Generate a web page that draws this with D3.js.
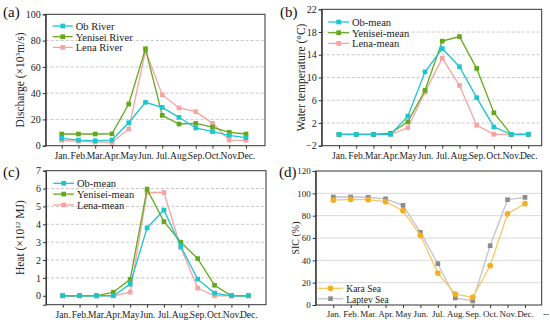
<!DOCTYPE html>
<html>
<head>
<meta charset="utf-8">
<script src="https://cdn.jsdelivr.net/npm/d3@7"></script>
<style>
  body { margin: 0; background: #fff; }
  svg { display: block; font-family: "Liberation Serif", "Times New Roman", serif; }
</style>
</head>
<body>
<script>
// months on x axis
var months = ['Jan.', 'Feb.', 'Mar.', 'Apr.', 'May', 'Jun.', 'Jul.', 'Aug.', 'Sep.', 'Oct.', 'Nov.', 'Dec.'];

// (a) discharge, 10^3 m/s
var obDischarge      = [5.6, 4.3, 3.8, 4.3, 17.5, 33, 29.2, 21.6, 13.5, 10.7, 7.9, 6.1];
var yeniseiDischarge = [8.9, 8.9, 8.9, 9, 31.7, 73.8, 23.1, 16.5, 17, 14.2, 10.2, 8.9];
var lenaDischarge    = [4.1, 3.5, 2.8, 2.5, 12.7, 72, 38.8, 28.7, 25.9, 17, 4.3, 4.1];

// (b) water temperature, deg C
var obTemp      = [0, 0, 0, 0, 3.2, 11.0, 15.1, 11.9, 6.45, 1.3, 0, 0];
var yeniseiTemp = [0, 0, 0, 0.2, 2.2, 7.75, 16.4, 17.2, 11.6, 3.8, 0, 0];
var lenaTemp    = [0, 0, 0, 0, 1.15, 7.45, 13.4, 8.6, 1.6, 0, 0, 0];

// (c) heat, 10^12 MJ
var obHeat      = [0, 0, 0, 0, 0.65, 3.8, 4.8, 2.76, 0.93, 0.15, 0, 0];
var yeniseiHeat = [0, 0, 0, 0.2, 0.92, 5.97, 4.15, 3.0, 2.08, 0.59, 0, 0];
var lenaHeat    = [0, 0, 0, 0, 0.2, 5.78, 5.78, 2.69, 0.43, 0, 0, 0];

// (d) sea ice concentration, %
var karaSIC   = [94, 94.6, 94.3, 92.5, 84.5, 62.4, 28.6, 9.8, 6.9, 35.2, 81.7, 90.7];
var laptevSIC = [96.7, 96.7, 96.5, 95, 89.2, 65, 37, 6.3, 3.6, 53.1, 94.3, 96.4];

var svg = d3.select('body').append('svg')
    .attr('width', 550)
    .attr('height', 323);

function drawPanel(cfg) {
    var g = svg.append('g');
    var x = d3.scalePoint().domain(months).range([cfg.x0, cfg.x1]);
    var y = d3.scaleLinear().domain(cfg.yDomain).range([cfg.bottom, cfg.top]);

    // grid
    g.selectAll('.grid')
        .data(cfg.grid)
        .enter().append('line')
        .attr('x1', cfg.left).attr('x2', cfg.right)
        .attr('y1', function(d) { return y(d); })
        .attr('y2', function(d) { return y(d); })
        .attr('stroke', cfg.gridSolid ? '#d9d9d9' : '#c8c8c8')
        .attr('stroke-width', 1)
        .attr('stroke-dasharray', cfg.gridSolid ? null : '3,2');

    // frame
    g.append('rect')
        .attr('x', cfg.left).attr('y', cfg.top)
        .attr('width', cfg.right - cfg.left)
        .attr('height', cfg.bottom - cfg.top)
        .attr('fill', 'none')
        .attr('stroke', '#333')
        .attr('stroke-width', 1);

    var yAxis = d3.axisLeft(y).tickValues(cfg.yTicks).tickSize(3).tickPadding(2)
        .tickFormat(function(d) { return d < 0 ? '\u22122' : d; });
    var ya = g.append('g').attr('transform', 'translate(' + cfg.left + ',0)').call(yAxis);
    ya.select('.domain').attr('stroke', '#333');
    ya.selectAll('line').attr('stroke', '#333');
    ya.selectAll('text').attr('font-size', cfg.fs).attr('fill', '#222')
        .attr('font-family', '"Liberation Serif", serif');

    var xAxis = d3.axisBottom(x).tickSize(3).tickPadding(3);
    var xa = g.append('g').attr('transform', 'translate(0,' + cfg.bottom + ')').call(xAxis);
    xa.select('.domain').remove();
    xa.selectAll('line').attr('stroke', '#333');
    xa.selectAll('text').attr('font-size', cfg.xfs || cfg.fs).attr('fill', '#222')
        .attr('font-family', '"Liberation Serif", serif');

    var line = d3.line()
        .x(function(d, i) { return x(months[i]); })
        .y(function(d) { return y(d); });

    // draw last series first so the first one sits on top
    cfg.series.slice().reverse().forEach(function(s) {
        g.append('path')
            .attr('d', line(s.values))
            .attr('fill', 'none')
            .attr('stroke', s.line || s.color)
            .attr('stroke-width', 1.3);
        var sym = d3.symbol().type(s.shape === 'circle' ? d3.symbolCircle : d3.symbolSquare)
            .size(s.shape === 'circle' ? 26 : 22);
        g.selectAll(null)
            .data(s.values)
            .enter().append('path')
            .attr('d', sym)
            .attr('transform', function(d, i) { return 'translate(' + x(months[i]) + ',' + y(d) + ')'; })
            .attr('fill', s.color);
    });

    // legend
    cfg.series.forEach(function(s, i) {
        var ly = cfg.legend.y + i * cfg.legend.dy;
        g.append('line')
            .attr('x1', cfg.legend.x).attr('x2', cfg.legend.x + cfg.legend.w)
            .attr('y1', ly).attr('y2', ly)
            .attr('stroke', s.line || s.color).attr('stroke-width', 1.3);
        g.append('path')
            .attr('d', d3.symbol().type(s.shape === 'circle' ? d3.symbolCircle : d3.symbolSquare)
                .size(s.shape === 'circle' ? 26 : 22))
            .attr('transform', 'translate(' + (cfg.legend.x + cfg.legend.w / 2) + ',' + ly + ')')
            .attr('fill', s.color);
        g.append('text')
            .attr('x', cfg.legend.x + cfg.legend.w + 3)
            .attr('y', ly + 4)
            .attr('font-size', cfg.legend.fs)
            .attr('fill', '#222')
            .text(s.name);
    });

    // y axis title
    g.append('text')
        .attr('transform', 'translate(' + cfg.titleX + ',' + ((cfg.top + cfg.bottom) / 2) + ') rotate(-90)')
        .attr('text-anchor', 'middle')
        .attr('font-size', cfg.titleFs)
        .attr('fill', '#222')
        .html(cfg.title);

    // panel tag
    g.append('text')
        .attr('x', cfg.tag.x).attr('y', cfg.tag.y)
        .attr('font-size', 15)
        .attr('fill', '#111')
        .text(cfg.tag.text);

    return { g: g, x: x, y: y };
}

var cOb = '#1cc6cf', cYen = '#66a81d', cLena = '#f6a3a3';

drawPanel({
    left: 45.7, right: 265, top: 14.3, bottom: 145.7, x0: 61.7, x1: 246,
    yDomain: [0, 100], yTicks: [0, 20, 40, 60, 80, 100], grid: [20, 40, 60, 80],
    fs: 10, xfs: 9.6,
    series: [
        { name: 'Ob River', values: obDischarge, color: cOb },
        { name: 'Yenisei River', values: yeniseiDischarge, color: cYen },
        { name: 'Lena River', values: lenaDischarge, color: cLena }
    ],
    legend: { x: 52.7, y: 26, dy: 10.7, w: 20, fs: 10.5 },
    title: 'Discharge (\u00d710<tspan dy="-4" font-size="7">3</tspan><tspan dy="4">m/s)</tspan>',
    titleX: 24, titleFs: 11.5,
    tag: { x: 3, y: 17, text: '(a)' }
});

drawPanel({
    left: 321.7, right: 541.7, top: 9.3, bottom: 145.7, x0: 339, x1: 528.3,
    yDomain: [-2, 22], yTicks: [-2, 2, 6, 10, 14, 18, 22], grid: [2, 6, 10, 14, 18],
    fs: 10, xfs: 9.6,
    series: [
        { name: 'Ob-mean', values: obTemp, color: cOb },
        { name: 'Yenisei-mean', values: yeniseiTemp, color: cYen },
        { name: 'Lena-mean', values: lenaTemp, color: cLena }
    ],
    legend: { x: 328.3, y: 22, dy: 10.7, w: 20.7, fs: 10.5 },
    title: 'Water temperature (\u00b0C)',
    titleX: 305, titleFs: 11.5,
    tag: { x: 280, y: 17, text: '(b)' }
});

drawPanel({
    left: 46, right: 266, top: 170.7, bottom: 304.7, x0: 62.7, x1: 248.3,
    yDomain: [-0.5, 7], yTicks: [0, 1, 2, 3, 4, 5, 6, 7], grid: [1, 2, 3, 4, 5, 6],
    fs: 10, xfs: 9.6,
    series: [
        { name: 'Ob-mean', values: obHeat, color: cOb },
        { name: 'Yenisei-mean', values: yeniseiHeat, color: cYen },
        { name: 'Lena-mean', values: lenaHeat, color: cLena }
    ],
    legend: { x: 53.3, y: 183.3, dy: 10.8, w: 20.7, fs: 10.5 },
    title: 'Heat (\u00d710<tspan dy="-4" font-size="7">12</tspan><tspan dy="4"> MJ)</tspan>',
    titleX: 24, titleFs: 11.5,
    tag: { x: 3, y: 177, text: '(c)' }
});

var pd = drawPanel({
    left: 315.7, right: 541.7, top: 171, bottom: 305, x0: 333.3, x1: 525,
    yDomain: [0, 120], yTicks: [0, 20, 40, 60, 80, 100, 120], grid: [20, 40, 60, 80, 100],
    gridSolid: true,
    fs: 9, xfs: 9,
    series: [
        { name: 'Kara Sea', values: karaSIC, color: '#f2b024', line: '#f5c862', shape: 'circle' },
        { name: 'Laptev Sea', values: laptevSIC, color: '#8c8c8c', line: '#c4c4cc' }
    ],
    legend: { x: 317.7, y: 288.3, dy: 10.4, w: 25.6, fs: 9.5 },
    title: 'SIC (%)',
    titleX: 299, titleFs: 10,
    tag: { x: 279, y: 177, text: '(d)' }
});
// trailing tick label past December
pd.g.append('text')
    .attr('x', 546).attr('y', 317)
    .attr('text-anchor', 'middle')
    .attr('font-size', 9)
    .attr('fill', '#222')
    .text('--');
</script>
</body>
</html>
